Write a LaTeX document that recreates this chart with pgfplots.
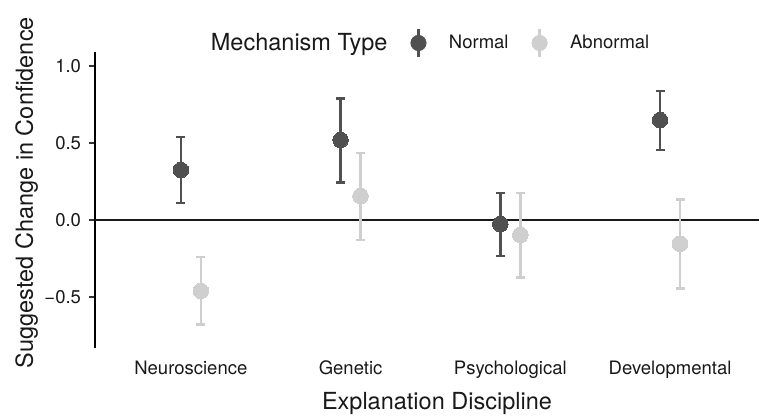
\documentclass[border=0pt]{standalone}
\usepackage{fontspec}
\setmainfont{TeX Gyre Heros}
\usepackage{pgfplots}
\pgfplotsset{compat=1.18}
\usepackage{pgfplotstable}

\definecolor{normalc}{HTML}{505050}
\definecolor{abnormc}{HTML}{CFCFCF}
\newcommand{\ticksz}{\fontsize{18.5bp}{22bp}\selectfont}
\newcommand{\titlesz}{\fontsize{23.5bp}{28bp}\selectfont}

% x = discipline index +- dodge, y = mean, lo/hi = interval ends
\pgfplotstableread{
x      y      lo     hi
0.9375 0.325  0.112  0.540
1.9375 0.520  0.245  0.790
2.9375 -0.026 -0.234 0.177
3.9375 0.649  0.456  0.838
}\normaltab

\pgfplotstableread{
x      y      lo     hi
1.0625 -0.460 -0.680 -0.240
2.0625 0.155  -0.130 0.435
3.0625 -0.097 -0.372 0.177
4.0625 -0.154 -0.444 0.134
}\abnormtab

\begin{document}
\begin{tikzpicture}
\useasboundingbox (0,0) rectangle (759bp,416bp);
\begin{axis}[
  at={(95bp,68bp)}, anchor=south west,
  width=664bp, height=296bp, scale only axis,
  xmin=0.4, xmax=4.557, ymin=-0.831, ymax=1.091,
  axis x line*=bottom, axis y line*=left,
  x axis line style={draw=none},
  y axis line style={black, line width=2bp},
  xtick={1,2,3,4},
  xticklabels={Neuroscience,Genetic,Psychological,Developmental},
  xtick style={draw=none},
  ytick={-0.5,0,0.5,1},
  yticklabels={−0.5,0.0,0.5,1.0},
  ytick style={black!80, line width=2bp},
  tick align=outside, major tick length=5.5bp,
  tick label style={font=\ticksz, text=black!90},
  xticklabel style={anchor=base, yshift=-20.5bp},
  yticklabel style={anchor=east, xshift=-5bp},
  xlabel={Explanation Discipline},
  xlabel style={at={(axis description cs:0.515,-0.209)}, anchor=base, font=\titlesz, text=black!90},
  ylabel={Suggested Change in Confidence},
  ylabel style={at={(axis description cs:-0.0934,0.525)}, anchor=base, font=\titlesz, text=black!90},
  legend style={at={(axis description cs:0.1404,1.0304)}, anchor=west,
    draw=none, fill=none, inner sep=0pt, font=\ticksz, text=black!90,
    nodes={inner sep=0pt},
    /tikz/every odd column/.append style={column sep=22.5bp},
    /tikz/every even column/.append style={column sep=23bp}},
  legend columns=-1,
  clip=false,
]
\addlegendimage{empty legend}
\addlegendentry{\titlesz Mechanism Type}

\addplot[forget plot, black!90, line width=2bp] coordinates {(0.4,0) (4.557,0)};

\addplot[only marks, mark=*, mark size=7.8bp, color=normalc,
  mark options={fill=normalc, line width=0pt},
  legend image code/.code={
    \draw[normalc, line width=2.5bp] (0bp,-14bp) -- (0bp,14bp);
    \fill[normalc] (0bp,0bp) circle[radius=7.8bp];},
  error bars/.cd, y dir=both, y explicit,
  error bar style={line width=2.5bp, normalc},
  error mark options={rotate=90, mark size=4.5bp, line width=2.5bp, normalc}]
  table[x=x, y=y, y error plus expr=\thisrow{hi}-\thisrow{y},
        y error minus expr=\thisrow{y}-\thisrow{lo}] {\normaltab};
\addlegendentry{Normal}

\addplot[only marks, mark=*, mark size=7.8bp, color=abnormc,
  mark options={fill=abnormc, line width=0pt},
  legend image code/.code={
    \draw[abnormc, line width=2.5bp] (0bp,-14bp) -- (0bp,14bp);
    \fill[abnormc] (0bp,0bp) circle[radius=7.8bp];},
  error bars/.cd, y dir=both, y explicit,
  error bar style={line width=2.5bp, abnormc},
  error mark options={rotate=90, mark size=4.5bp, line width=2.5bp, abnormc}]
  table[x=x, y=y, y error plus expr=\thisrow{hi}-\thisrow{y},
        y error minus expr=\thisrow{y}-\thisrow{lo}] {\abnormtab};
\addlegendentry{Abnormal}
\end{axis}
\end{tikzpicture}
\end{document}
